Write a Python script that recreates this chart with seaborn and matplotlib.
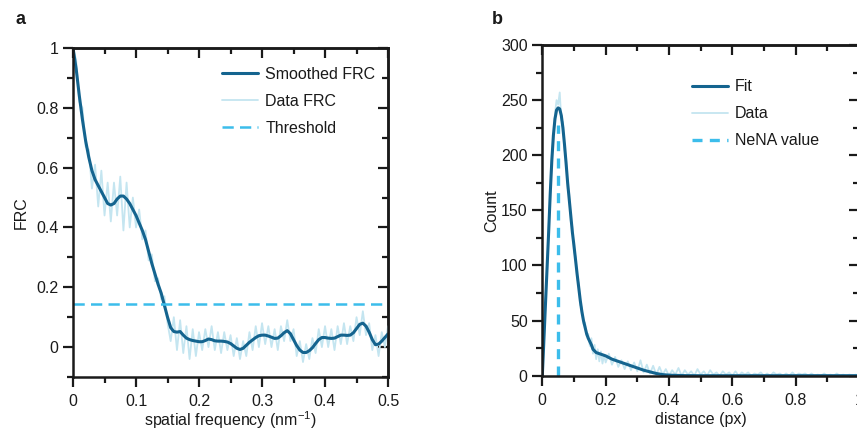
import numpy as np
import matplotlib
matplotlib.use("Agg")
import matplotlib.pyplot as plt
import seaborn as sns
from matplotlib.ticker import MultipleLocator

# ---- panel a: FRC ----
freq = np.round(np.arange(0, 0.5001, 0.005), 3)
smoothed_frc = [
    1.0, 0.93, 0.84, 0.76, 0.69, 0.635, 0.59, 0.56, 0.54, 0.52,
    0.50, 0.48, 0.475, 0.48, 0.495, 0.505, 0.505, 0.495, 0.48, 0.46,
    0.44, 0.415, 0.39, 0.36, 0.32, 0.28, 0.245, 0.21, 0.18, 0.14,
    0.10, 0.065, 0.052, 0.05, 0.052, 0.04, 0.03, 0.025, 0.022, 0.02,
    0.018, 0.018, 0.022, 0.027, 0.025, 0.021, 0.02, 0.02, 0.019, 0.017,
    0.012, 0.004, -0.004, -0.008, -0.004, 0.006, 0.016, 0.024, 0.032, 0.038,
    0.04, 0.04, 0.037, 0.033, 0.029, 0.03, 0.038, 0.048, 0.055, 0.045,
    0.025, 0.005, -0.01, -0.018, -0.018, -0.012, -0.002, 0.012, 0.025, 0.032,
    0.032, 0.03, 0.029, 0.03, 0.035, 0.04, 0.04, 0.039, 0.04, 0.048,
    0.062, 0.076, 0.08, 0.07, 0.05, 0.025, 0.008, 0.01, 0.02, 0.032,
    0.044,
]
data_frc = [
    1.00, 0.96, 0.82, 0.80, 0.67, 0.66, 0.53, 0.61, 0.47, 0.59,
    0.44, 0.55, 0.42, 0.55, 0.44, 0.57, 0.39, 0.55, 0.40, 0.50,
    0.40, 0.46, 0.36, 0.39, 0.29, 0.31, 0.22, 0.23, 0.16, 0.17,
    0.08, 0.02, 0.10, -0.01, 0.09, -0.02, 0.07, -0.04, 0.06, -0.03,
    0.05, -0.01, 0.06, 0.00, 0.07, -0.01, 0.05, -0.02, 0.05, -0.01,
    0.04, -0.03, 0.03, -0.04, 0.02, -0.03, 0.05, -0.01, 0.07, 0.00,
    0.08, 0.01, 0.07, 0.00, 0.06, -0.01, 0.07, 0.02, 0.09, 0.02,
    0.06, -0.03, 0.02, -0.05, 0.01, -0.04, 0.03, -0.02, 0.06, 0.00,
    0.07, 0.00, 0.06, -0.01, 0.07, 0.01, 0.08, 0.01, 0.07, 0.02,
    0.10, 0.04, 0.12, 0.04, 0.08, -0.01, 0.04, -0.03, 0.05, 0.00,
    0.07,
]
threshold = 0.143

# ---- panel b: NeNA ----
dist_fine = np.round(np.arange(0, 0.2001, 0.005), 3)
dist_coarse = np.round(np.arange(0.21, 1.0001, 0.01), 2)
dist_data = np.concatenate([dist_fine, dist_coarse])
count_data = [
    0, 30, 70, 95, 135, 160, 200, 215, 238, 250,
    246, 257, 232, 230, 205, 198, 170, 165, 140, 135,
    112, 108, 88, 84, 64, 62, 47, 48, 36, 38,
    27, 34, 20, 28, 15, 24, 13, 22, 11, 19,
    12,
    20, 10, 17, 8, 14, 6, 13, 5, 12, 4,
    14, 3, 10, 2, 9, 1, 8, 1, 6, 0,
    5, 1, 7, 0, 5, 1, 4, 0, 6, 1,
    4, 0, 5, 1, 3, 0, 4, 1, 3, 0,
    4, 0, 3, 1, 3, 0, 2, 1, 3, 0,
    2, 0, 3, 1, 2, 0, 2, 0, 3, 0,
    2, 1, 2, 0, 2, 0, 1, 0, 2, 0,
    1, 0, 2, 0, 1, 0, 1, 0, 1, 0,
]
dist_fit = [0, 0.01, 0.02, 0.025, 0.03, 0.035, 0.04, 0.045, 0.05, 0.055,
            0.06, 0.065, 0.07, 0.075, 0.08, 0.085, 0.09, 0.095, 0.1, 0.105,
            0.11, 0.115, 0.12, 0.125, 0.13, 0.135, 0.14, 0.145, 0.15, 0.155,
            0.16, 0.17, 0.18, 0.2, 0.22, 0.24, 0.26, 0.28, 0.3, 0.32,
            0.34, 0.36, 0.38, 0.4, 0.45, 0.5, 0.7, 1.0]
count_fit = [0, 65, 130, 165, 195, 218, 233, 241, 243, 242,
             236, 225, 210, 193, 175, 160, 145, 130, 118, 105,
             92, 80, 68, 58, 50, 44, 38, 34, 31, 28,
             24, 21, 20, 18, 15, 13, 11, 9, 7, 5,
             3.5, 2, 1, 0.5, 0.1, 0, 0, 0]
nena_value = 0.05
nena_top = 227

dark = "#14648f"
light = "#c4e5f0"
dash = "#3cbdeb"
ink = "#1a1a1a"

sns.set_style("ticks")
plt.rcParams["font.family"] = ["Liberation Sans", "DejaVu Sans"]
plt.rcParams["mathtext.fontset"] = "custom"
plt.rcParams["mathtext.rm"] = "Liberation Sans"
plt.rcParams["mathtext.it"] = "Liberation Sans"
plt.rcParams["font.size"] = 11.5
plt.rcParams["text.color"] = ink
plt.rcParams["axes.labelcolor"] = ink
plt.rcParams["xtick.labelcolor"] = ink
plt.rcParams["ytick.labelcolor"] = ink

fig = plt.figure(figsize=(8.57, 4.32), dpi=100)
ax1 = fig.add_axes([0.0852, 0.1273, 0.3676, 0.7616])
ax2 = fig.add_axes([0.6328, 0.1303, 0.3695, 0.7655])


def style_axes(ax, xmaj, xmin, ymaj, ymin, pad):
    for s in ax.spines.values():
        s.set_linewidth(1.8)
        s.set_color(ink)
    ax.xaxis.set_major_locator(MultipleLocator(xmaj))
    ax.xaxis.set_minor_locator(MultipleLocator(xmin))
    ax.yaxis.set_major_locator(MultipleLocator(ymaj))
    ax.yaxis.set_minor_locator(MultipleLocator(ymin))
    ax.tick_params(which="major", direction="out", length=7.5, width=1.6,
                   labelsize=11.5, pad=pad, color=ink)
    ax.tick_params(axis="y", which="major", pad=3)
    ax.tick_params(which="minor", direction="out", length=4.5, width=1.6,
                   color=ink)
    top = ax.secondary_xaxis("top")
    right = ax.secondary_yaxis("right")
    for sec, axis in ((top, top.xaxis), (right, right.yaxis)):
        axis.set_major_locator(MultipleLocator(xmaj if sec is top else ymaj))
        axis.set_minor_locator(MultipleLocator(xmin if sec is top else ymin))
        sec.tick_params(which="major", direction="in", length=7.5, width=1.6,
                        color=ink)
        sec.tick_params(which="minor", direction="in", length=4, width=1.6,
                        color=ink)
        sec.tick_params(labeltop=False, labelright=False)
        for s in sec.spines.values():
            s.set_linewidth(1.8)
            s.set_color(ink)


# panel a
sns.lineplot(x=freq, y=data_frc, ax=ax1, color=light, lw=1.3, label="Data FRC")
sns.lineplot(x=freq, y=smoothed_frc, ax=ax1, color=dark, lw=2.2, label="Smoothed FRC")
ax1.axhline(threshold, color=dash, lw=1.8, dashes=(4.5, 2.5), label="Threshold")
ax1.set_xlim(0, 0.5)
ax1.set_ylim(-0.1, 1.0)
style_axes(ax1, 0.1, 0.05, 0.2, 0.1, pad=5)
ax1.xaxis.set_major_formatter(plt.FuncFormatter(lambda v, p: f"{v:g}"))
ax1.yaxis.set_major_formatter(plt.FuncFormatter(lambda v, p: f"{v:g}"))
ax1.set_xlabel("spatial frequency (nm$^{-1}$)", fontsize=11.5, labelpad=0)
ax1.set_ylabel("FRC", fontsize=11.5, labelpad=5)
h, l = ax1.get_legend_handles_labels()
order = [l.index("Smoothed FRC"), l.index("Data FRC"), l.index("Threshold")]
ax1.legend([h[i] for i in order], [l[i] for i in order], loc="upper left",
           bbox_to_anchor=(0.453, 0.963), borderaxespad=0, frameon=False,
           fontsize=11.5, handlelength=2.25, labelspacing=0.75,
           handletextpad=0.45)

# panel b
sns.lineplot(x=dist_data, y=count_data, ax=ax2, color=light, lw=1.3, label="Data")
sns.lineplot(x=dist_fit, y=count_fit, ax=ax2, color=dark, lw=2.2, label="Fit")
ax2.plot([nena_value, nena_value], [0, nena_top], color=dash, lw=2.4,
         dashes=(3, 2.2), label="NeNA value")
ax2.set_xlim(0, 1.0)
ax2.set_ylim(0, 300)
style_axes(ax2, 0.2, 0.1, 50, 25, pad=5)
ax2.xaxis.set_major_formatter(plt.FuncFormatter(lambda v, p: f"{v:g}"))
ax2.set_xlabel("distance (px)", fontsize=11.5, labelpad=3)
ax2.set_ylabel("Count", fontsize=11.5, labelpad=1)
h, l = ax2.get_legend_handles_labels()
order = [l.index("Fit"), l.index("Data"), l.index("NeNA value")]
ax2.legend([h[i] for i in order], [l[i] for i in order], loc="upper left",
           bbox_to_anchor=(0.4525, 0.916), borderaxespad=0, frameon=False,
           fontsize=11.5, handlelength=2.25, labelspacing=0.75,
           handletextpad=0.45)

fig.text(20 / 857, 1 - 20 / 432, "a", fontsize=13, fontweight="bold",
         ha="center", va="center")
fig.text(497 / 857, 1 - 20 / 432, "b", fontsize=13, fontweight="bold",
         ha="center", va="center")

fig.savefig("out.png", dpi=100)
